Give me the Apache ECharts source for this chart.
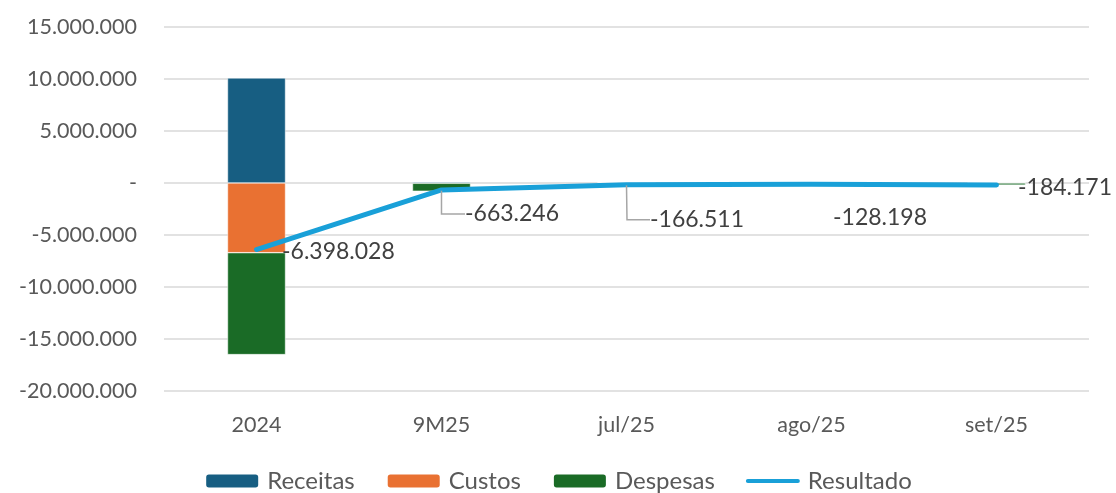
<!DOCTYPE html>
<html>
<head>
<meta charset="utf-8">
<script src="https://cdn.jsdelivr.net/npm/echarts@6/dist/echarts.min.js"></script>
<style>
  html, body { margin: 0; padding: 0; background: #fff; }
  #chart { width: 1116px; height: 493px; }
</style>
</head>
<body>
<div id="chart"></div>
<script>
  var categories = ['2024', '9M25', 'jul/25', 'ago/25', 'set/25'];
  var receitas = [10100000, 120000, 20000, 20000, 20000];
  var custos = [-6700000, -30000, -5000, -5000, -5000];
  var despesas = [-9798028, -753246, -181511, -143198, -199171];
  var resultado = [-6398028, -663246, -166511, -128198, -184171];

  function fmt(v) {
    if (v === 0) return '-';
    var s = Math.abs(Math.round(v)).toString().replace(/\B(?=(\d{3})+(?!\d))/g, '.');
    return (v < 0 ? '-' : '') + s;
  }

  var font = 'Lato';
  var chart = echarts.init(document.getElementById('chart'));

  // label placement per point (dx, dy) and elbow length of the leader line, as in the excel chart
  var labelOffsets = [[20, 2], [18, 24], [18, 35], [16, 33], [16, 3]];
  var leaderLen = [0, 24, 23, 0, 0];

  var resultadoData = resultado.map(function (v, i) {
    return {
      value: v,
      labelLine: { show: leaderLen[i] > 0, length2: leaderLen[i] }
    };
  });

  chart.setOption({
    animation: false,
    textStyle: { fontFamily: font },
    grid: { left: 164, right: 27, top: 27, bottom: 102 },
    legend: {
      top: 464,
      left: 'center',
      itemWidth: 54,
      itemHeight: 15,
      itemGap: 31,
      textStyle: { fontSize: 24, color: '#595959', fontFamily: font, padding: [0, 0, 0, 3] },
      data: [
        { name: 'Receitas' },
        { name: 'Custos' },
        { name: 'Despesas' },
        { name: 'Resultado', icon: 'path://M2,0 L52,0 A2,2 0 0 1 52,4 L2,4 A2,2 0 0 1 2,0 Z' }
      ]
    },
    xAxis: {
      type: 'category',
      data: categories,
      axisLine: { show: false },
      axisTick: { show: false },
      axisLabel: { fontSize: 21.5, color: '#595959', margin: 23 }
    },
    yAxis: {
      type: 'value',
      min: -20000000,
      max: 15000000,
      interval: 5000000,
      axisLabel: { fontSize: 21.5, color: '#595959', margin: 27, formatter: fmt },
      splitLine: { lineStyle: { color: '#d9d9d9', width: 1.5 } }
    },
    series: [
      {
        name: 'Receitas', type: 'bar', stack: 'a', barWidth: 58,
        itemStyle: { color: '#175e82', borderColor: '#ffffff', borderWidth: 0.5 },
        data: receitas
      },
      {
        name: 'Custos', type: 'bar', stack: 'a', barWidth: 58,
        itemStyle: { color: '#e97132', borderColor: '#ffffff', borderWidth: 0.5 },
        data: custos
      },
      {
        name: 'Despesas', type: 'bar', stack: 'a', barWidth: 58,
        itemStyle: { color: '#1a6b26', borderColor: '#ffffff', borderWidth: 0.5 },
        data: despesas
      },
      {
        name: 'Resultado', type: 'line', z: 5,
        symbol: 'circle', symbolSize: 1, showSymbol: true,
        lineStyle: { color: '#19a0d8', width: 5, cap: 'round', join: 'round' },
        itemStyle: { color: '#19a0d8' },
        label: {
          show: true, position: 'right', fontSize: 23, color: '#404040',
          formatter: function (p) { return fmt(p.value); }
        },
        labelLine: { show: true, minTurnAngle: 90, lineStyle: { color: '#a6a6a6', width: 1.5 } },
        labelLayout: function (p) {
          var o = labelOffsets[p.dataIndex];
          return { dx: o[0], dy: o[1] };
        },
        data: resultadoData
      }
    ]
  });
</script>
</body>
</html>
